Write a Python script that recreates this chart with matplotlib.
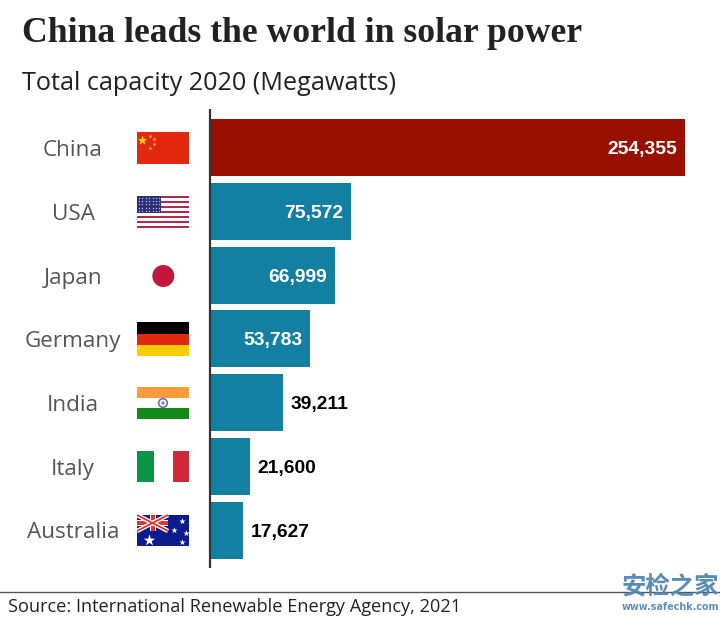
import matplotlib
matplotlib.use("Agg")
import matplotlib.pyplot as plt
from matplotlib.patches import Rectangle, Circle

countries = ["China", "USA", "Japan", "Germany", "India", "Italy", "Australia"]
capacity = [254355, 75572, 66999, 53783, 39211, 21600, 17627]
bar_colors = ["#990f00", "#1380a1", "#1380a1", "#1380a1", "#1380a1", "#1380a1", "#1380a1"]
inside_label = [True, True, True, True, False, False, False]
title = "China leads the world in solar power"
subtitle = "Total capacity 2020 (Megawatts)"
source = "Source: International Renewable Energy Agency, 2021"

W, H = 720, 619
fig = plt.figure(figsize=(7.2, 6.19), dpi=100, facecolor="white")

# pixel overlay for header, footer and flags
ov = fig.add_axes([0, 0, 1, 1], zorder=3)
ov.set_xlim(0, W); ov.set_ylim(H, 0); ov.axis("off"); ov.patch.set_alpha(0)

# bars
top, bottom = 115, 561.6
ax = fig.add_axes([210 / W, 1 - bottom / H, 475 / W, (bottom - top) / H], zorder=1)
ypos = list(range(len(countries)))
ax.barh(ypos, capacity, height=0.893, color=bar_colors, linewidth=0)
ax.set_xlim(0, max(capacity))
ax.set_ylim(6.49, -0.51)
ax.axis("off")
for y, v, ins in zip(ypos, capacity, inside_label):
    lab = f"{v:,}"
    if ins:
        ax.annotate(lab, (v, y), xytext=(-8, -2), textcoords="offset pixels", ha="right", va="center",
                    color="white", fontsize=13.9, fontweight="bold", family="Liberation Sans")
    else:
        ax.annotate(lab, (v, y), xytext=(7.5, -2), textcoords="offset pixels", ha="left", va="center",
                    color="black", fontsize=13.9, fontweight="bold", family="Liberation Sans")

# category labels
centers = [148, 212, 276, 339.5, 403, 467, 530.5]
label_x = [73, 73, 73, 73, 73, 73, 73]
for name, cy, lx in zip(countries, centers, label_x):
    ov.text(lx, cy + 2.5, name, ha="center", va="center", fontsize=16.2, color="#555555", family="Open Sans")

# axis line
ov.plot([209.5, 209.5], [109, 568], color="#333333", lw=1.6, solid_capstyle="butt")

# header and footer
ov.text(22, 33.5, title, ha="left", va="center", fontsize=25.7, fontweight="bold", color="#222222", family="Liberation Serif")
ov.text(22, 83.5, subtitle, ha="left", va="center", fontsize=18.2, color="#222222", family="Open Sans")
ov.plot([0, 720], [592, 592], color="#555555", lw=1)
ov.text(8, 606.5, source, ha="left", va="center", fontsize=13.05, color="#222222", family="Open Sans")

# flags
L, R = 137, 189
def rect(x0, y0, x1, y1, c):
    ov.add_patch(Rectangle((x0, y0), x1 - x0, y1 - y0, fc=c, ec="none"))

# China
rect(L, 132, R, 164, "#e2280f")
ov.scatter([142], [140], marker="*", s=55, c="#fbd116", linewidths=0)
ov.scatter([150, 153.5, 153.5, 150], [135.5, 138.5, 144, 147.5], marker="*", s=10, c="#f9b233", linewidths=0)

# USA
for i in range(13):
    rect(L, 196 + i * 32 / 13, R, 196 + (i + 1) * 32 / 13, "#b22a49" if i % 2 == 0 else "white")
rect(L, 196, L + 24, 196 + 17, "#2c2f77")
for r in range(5):
    for c in range(7):
        ov.scatter([L + 2 + c * 3.4], [198 + r * 3.2], s=1, c="#b9bbdd", linewidths=0)

# Japan
ov.add_patch(Circle((163.3, 276), 11, fc="#c2173a", ec="none"))

# Germany
rect(L, 322, R, 334, "#000000")
rect(L, 334, R, 345, "#e02a0c")
rect(L, 345, R, 356, "#ffcc00")

# India
rect(L, 387, R, 398, "#ff9a3c")
rect(L, 408, R, 419, "#15881a")
ov.add_patch(Circle((163, 403), 4.3, fc="white", ec="#6a6fb5", lw=1.2))
ov.add_patch(Circle((163, 403), 1.8, fc="#8a8fc5", ec="none"))

# Italy
rect(L, 451, L + 17, 482, "#0d9347")
rect(R - 16, 451, R, 482, "#cf2a3a")

# Australia
rect(L, 515, R, 546, "#0c1c8c")
ov.plot([L, L + 31], [515, 531], color="white", lw=3.2, solid_capstyle="butt")
ov.plot([L, L + 31], [531, 515], color="white", lw=3.2, solid_capstyle="butt")
ov.plot([L, L + 31], [515, 531], color="#e0342a", lw=1.3, solid_capstyle="butt")
ov.plot([L, L + 31], [531, 515], color="#e0342a", lw=1.3, solid_capstyle="butt")
rect(L, 520, L + 31, 526, "white")
rect(L + 12.5, 515, L + 18.5, 531, "white")
rect(L, 521, L + 31, 525, "#e0342a")
rect(L + 13.5, 515, L + 17.5, 531, "#e0342a")
ov.scatter([149], [540], marker="*", s=75, c="white", linewidths=0)
ov.scatter([182, 174, 182, 186], [521, 530, 542, 533], marker="*", s=22, c="white", linewidths=0)

# watermark
ov.text(670, 586, "安检之家", ha="center", va="center", fontsize=17.6, fontweight="bold",
        color="#4f86b5", family="Noto Sans CJK SC", alpha=0.95)
ov.text(670, 607, "www.safechk.com", ha="center", va="center", fontsize=6.9, fontweight="bold",
        color="#5f8fb8", family="DejaVu Sans")

fig.savefig("out.png", dpi=100, facecolor="white")
